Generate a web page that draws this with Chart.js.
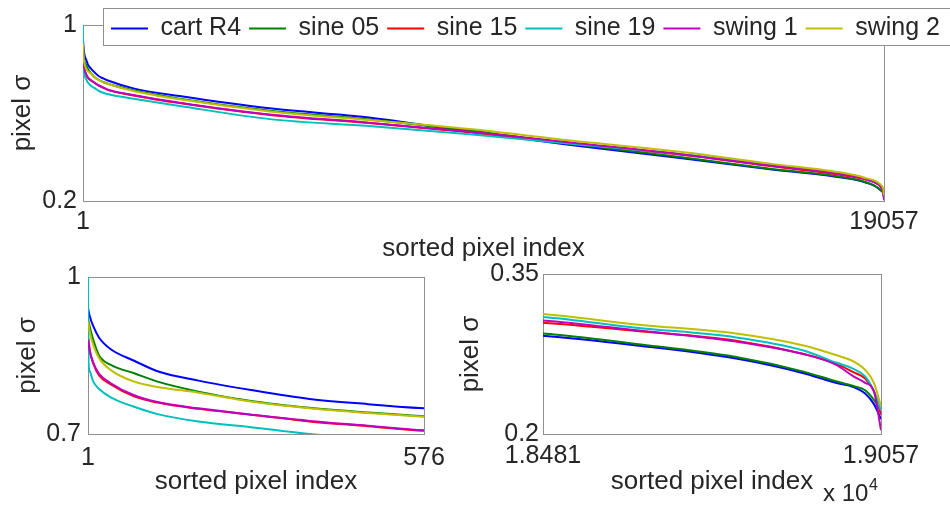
<!DOCTYPE html>
<html>
<head>
<meta charset="utf-8">
<script src="https://cdn.jsdelivr.net/npm/chart.js@4.4.1/dist/chart.umd.min.js"></script>
<style>
body { margin: 0; background: #fff; width: 950px; height: 505px; overflow: hidden; position: relative; }
canvas { position: absolute; }
</style>
</head>
<body>
<canvas id="graficaTotal" width="950" height="270" style="left:0;top:0"></canvas>
<canvas id="graficaInicio" width="475" height="250" style="left:0;top:255px"></canvas>
<canvas id="graficaFinal" width="500" height="250" style="left:450px;top:255px"></canvas>
<canvas id="leyenda" width="880" height="80" style="left:103px;top:8px"></canvas>
<script>
// sorted pixel index (dense at both ends, coarse in the middle)
const pixelIndex = [1, 2, 4, 10, 20, 40, 80, 120, 190, 280, 380, 480, 576,
    1200, 2300, 4500, 6800, 9200, 11600, 14200, 16300,
    18481, 18640, 18810, 18925, 18980, 19010, 19030, 19045, 19057];

const cartR4 = [0.94, 0.935, 0.925, 0.906, 0.884, 0.862, 0.840, 0.820, 0.802, 0.784, 0.767, 0.757, 0.749,
    0.712, 0.677, 0.620, 0.580, 0.515, 0.455, 0.395, 0.345,
    0.292, 0.283, 0.2707, 0.257, 0.248, 0.244, 0.238, 0.228, 0.214];
const sine05 = [0.92, 0.915, 0.905, 0.88, 0.85, 0.832, 0.816, 0.80, 0.781, 0.763, 0.750, 0.741, 0.734,
    0.703, 0.665, 0.609, 0.571, 0.520, 0.460, 0.400, 0.348,
    0.2942, 0.2844, 0.2722, 0.2585, 0.2494, 0.245, 0.241, 0.232, 0.222];
const sine15 = [0.885, 0.88, 0.86, 0.835, 0.812, 0.795, 0.772, 0.760, 0.748, 0.737, 0.724, 0.715, 0.706,
    0.680, 0.645, 0.590, 0.554, 0.513, 0.464, 0.411, 0.360,
    0.3043, 0.2966, 0.2875, 0.275, 0.266, 0.258, 0.252, 0.240, 0.218];
const sine19 = [1.0, 0.836, 0.82, 0.80, 0.786, 0.770, 0.752, 0.738, 0.724, 0.713, 0.700, 0.692, 0.686,
    0.665, 0.632, 0.571, 0.541, 0.503, 0.460, 0.414, 0.365,
    0.3098, 0.2997, 0.2905, 0.2783, 0.267, 0.261, 0.254, 0.240, 0.222];
const swing1 = [0.88, 0.872, 0.858, 0.836, 0.815, 0.797, 0.774, 0.761, 0.749, 0.737, 0.725, 0.716, 0.707,
    0.682, 0.647, 0.592, 0.556, 0.515, 0.466, 0.413, 0.362,
    0.3064, 0.2972, 0.2866, 0.275, 0.265, 0.254, 0.248, 0.240, 0.2036];
const swing2 = [0.915, 0.91, 0.895, 0.87, 0.845, 0.822, 0.800, 0.790, 0.779, 0.762, 0.749, 0.740, 0.733,
    0.700, 0.662, 0.606, 0.568, 0.527, 0.475, 0.424, 0.371,
    0.3125, 0.3027, 0.2942, 0.283, 0.274, 0.268, 0.260, 0.248, 0.226];

const seriesNames = ['cart R4', 'sine 05', 'sine 15', 'sine 19', 'swing 1', 'swing 2'];
const seriesValues = [cartR4, sine05, sine15, sine19, swing1, swing2];
const seriesColors = ['#0000ff', '#008000', '#ff0000', '#00bfbf', '#bf00bf', '#bfbf00'];

// axis limits and the only tick labels shown
const topXRange = [1, 19057];
const topYRange = [0.2, 1];
const topXTicks = ['1', '19057'];
const topYTicks = ['0.2', '1'];
const leftXRange = [1, 576];
const leftYRange = [0.7, 1];
const leftXTicks = ['1', '576'];
const leftYTicks = ['0.7', '1'];
const rightXRange = [18481, 19057];
const rightYRange = [0.2, 0.35];
const rightXTicks = ['1.8481', '1.9057'];
const rightYTicks = ['0.2', '0.35'];

const fuente = "'Liberation Sans', Arial, Helvetica, sans-serif";
const colorTexto = '#262626';

// box around the plot area
const marco = {
    id: 'marco',
    beforeDatasetsDraw(chart) {
        const a = chart.chartArea, ctx = chart.ctx;
        ctx.save();
        ctx.strokeStyle = '#8f8f8f';
        ctx.lineWidth = 1;
        ctx.strokeRect(Math.round(a.left) + 0.5, Math.round(a.top) + 0.5,
            Math.round(a.right - a.left), Math.round(a.bottom - a.top));
        ctx.restore();
    }
};

// "x 10^4" under the last panel
const exponente = {
    id: 'exponente',
    afterDraw(chart) {
        const a = chart.chartArea, ctx = chart.ctx;
        ctx.save();
        ctx.fillStyle = colorTexto;
        ctx.textBaseline = 'alphabetic';
        ctx.font = '24px ' + fuente;
        ctx.fillText('x 10', a.right - 58, 246);
        ctx.font = '16px ' + fuente;
        ctx.fillText('4', a.right - 12, 235);
        ctx.restore();
    }
};

function armarSeries() {
    return seriesNames.map((nombre, i) => ({
        label: nombre,
        data: pixelIndex.map((x, j) => ({x: x, y: seriesValues[i][j]})),
        borderColor: seriesColors[i],
        backgroundColor: seriesColors[i],
        borderWidth: 2,
        pointRadius: 0,
        fill: false,
        cubicInterpolationMode: 'monotone',
        order: seriesNames.length - i   // last series drawn on top
    }));
}

function soloExtremos(scale) {
    scale.ticks = [{value: scale.min}, {value: scale.max}];
}

function crearPanel(id, xRange, yRange, xTicks, yTicks, caja, extra) {
    return new Chart(document.getElementById(id), {
        type: 'line',
        data: { datasets: armarSeries() },
        options: {
            responsive: false,
            animation: false,
            layout: { padding: caja.padding },
            scales: {
                x: {
                    type: 'linear',
                    min: xRange[0],
                    max: xRange[1],
                    afterBuildTicks: soloExtremos,
                    afterFit: (s) => { s.height = caja.xHeight; },
                    grid: { display: false, drawTicks: false },
                    border: { display: false },
                    ticks: {
                        autoSkip: false, maxRotation: 0, minRotation: 0,
                        padding: caja.xTickPad,
                        color: colorTexto,
                        font: { family: fuente, size: 25 },
                        callback: (v, i) => xTicks[i]
                    },
                    title: {
                        display: true, text: 'sorted pixel index', color: colorTexto,
                        font: { family: fuente, size: 26 },
                        padding: { top: 0, bottom: caja.xTitlePad }
                    }
                },
                y: {
                    min: yRange[0],
                    max: yRange[1],
                    afterBuildTicks: soloExtremos,
                    afterFit: (s) => { s.width = caja.yWidth; },
                    grid: { display: false, drawTicks: false },
                    border: { display: false },
                    ticks: {
                        autoSkip: false,
                        padding: caja.yTickPad,
                        color: colorTexto,
                        font: { family: fuente, size: 25 },
                        callback: (v, i) => yTicks[i]
                    },
                    title: {
                        display: true, text: 'pixel σ', color: colorTexto,
                        font: { family: fuente, size: 26 },
                        padding: { top: caja.yTitlePad, bottom: 0 }
                    }
                }
            },
            plugins: {
                legend: { display: false },
                tooltip: { enabled: false }
            }
        },
        plugins: extra ? [marco, extra] : [marco]
    });
}

crearPanel('graficaTotal', topXRange, topYRange, topXTicks, topYTicks, {
    padding: { top: 25, right: 66, bottom: 0, left: 0 },
    xHeight: 69, yWidth: 83, xTickPad: 6, yTickPad: 6, xTitlePad: 6, yTitlePad: 7
});

crearPanel('graficaInicio', leftXRange, leftYRange, leftXTicks, leftYTicks, {
    padding: { top: 15, right: 51, bottom: 0, left: 0 },
    xHeight: 71, yWidth: 88, xTickPad: 9, yTickPad: 7, xTitlePad: 8, yTitlePad: 12
});

crearPanel('graficaFinal', rightXRange, rightYRange, rightXTicks, rightYTicks, {
    padding: { top: 15, right: 69, bottom: 0, left: 0 },
    xHeight: 71, yWidth: 93, xTickPad: 7, yTickPad: 4, xTitlePad: 8, yTitlePad: 5
}, exponente);

// legend in its own box, over the top panel
const cajaLeyenda = {
    id: 'cajaLeyenda',
    beforeDraw(chart) {
        const l = chart.legend, ctx = chart.ctx;
        ctx.save();
        ctx.fillStyle = '#fff';
        ctx.fillRect(l.left, l.top, l.width, l.height - 2);
        ctx.strokeStyle = '#8f8f8f';
        ctx.lineWidth = 1;
        ctx.strokeRect(l.left + 0.5, l.top + 0.5, l.width + 10, l.height - 3);
        ctx.restore();
    }
};

new Chart(document.getElementById('leyenda'), {
    type: 'line',
    data: {
        datasets: seriesNames.map((nombre, i) => ({
            label: nombre,
            data: [],
            borderColor: seriesColors[i],
            backgroundColor: seriesColors[i],
            borderWidth: 2
        }))
    },
    options: {
        responsive: false,
        animation: false,
        layout: { padding: 0 },
        scales: { x: { display: false }, y: { display: false } },
        plugins: {
            legend: {
                display: true,
                position: 'top',
                align: 'start',
                labels: {
                    usePointStyle: true,
                    pointStyle: 'line',
                    pointStyleWidth: 37,
                    padding: 8,
                    color: colorTexto,
                    font: { family: fuente, size: 25 }
                }
            },
            tooltip: { enabled: false }
        }
    },
    plugins: [cajaLeyenda]
});
</script>
</body>
</html>
